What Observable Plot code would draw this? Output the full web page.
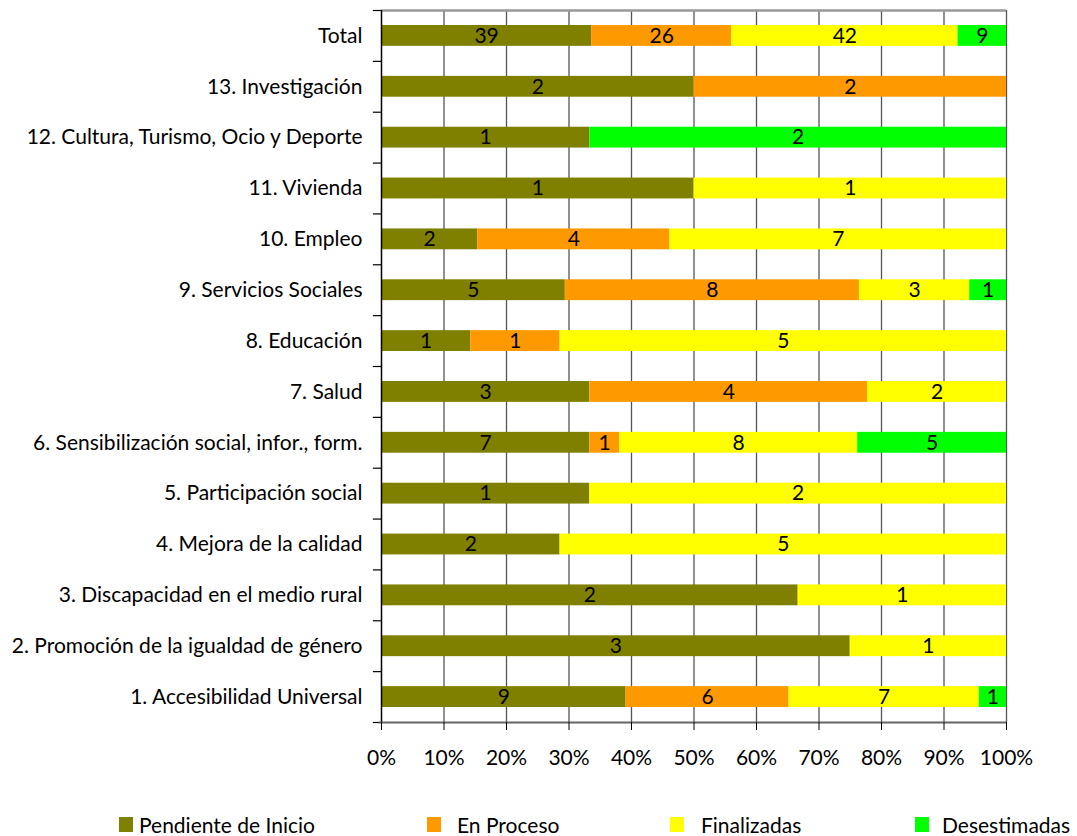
<!DOCTYPE html>
<html><head><meta charset="utf-8">
<script src="https://cdn.jsdelivr.net/npm/d3@7"></script>
<script src="https://cdn.jsdelivr.net/npm/@observablehq/plot@0.6"></script>
<style>
body{margin:0;background:#fff;font-family:Lato,"Open Sans",sans-serif;}
#wrap{position:relative;width:1077px;height:836px;overflow:hidden;}
#chart{position:absolute;left:0;top:0;}
.leg{position:absolute;top:813px;font-size:21px;line-height:24px;color:#000;white-space:nowrap;}
.sw{position:absolute;top:817px;width:14px;height:15px;}
</style></head>
<body><div id="wrap"><div id="chart"></div></div>
<script>
const categories = ["Total","13. Investigación","12. Cultura, Turismo, Ocio y Deporte","11. Vivienda","10. Empleo","9. Servicios Sociales","8. Educación","7. Salud","6. Sensibilización social, infor., form.","5. Participación social","4. Mejora de la calidad","3. Discapacidad en el medio rural","2. Promoción de la igualdad de género","1. Accesibilidad Universal"];
const series = ["Pendiente de Inicio","En Proceso","Finalizadas","Desestimadas"];
const colors = ["#808000","#FF9900","#FFFF00","#00FF00"];
const pendiente   = [39,2,1,1,2,5,1,3,7,1,2,2,3,9];
const enProceso   = [26,2,0,0,4,8,1,4,1,0,0,0,0,6];
const finalizadas = [42,0,0,1,7,3,5,2,8,2,5,1,1,7];
const desestimadas= [9,0,2,0,0,1,0,0,5,0,0,0,0,1];
const xTicks = [0,0.1,0.2,0.3,0.4,0.5,0.6,0.7,0.8,0.9,1];

const cols = [pendiente,enProceso,finalizadas,desestimadas];
const data = [];
categories.forEach((c,i)=>series.forEach((s,j)=>{ if(cols[j][i]>0) data.push({cat:c,series:s,value:cols[j][i]}); }));

const W=1077,H=800,mt=10,mb=78,ml=381,mr=71;
const step=(H-mt-mb)/categories.length;
const font="Lato, 'Open Sans', sans-serif";

const plot = Plot.plot({
  width:W,height:H,marginTop:mt,marginBottom:mb,marginLeft:ml,marginRight:mr,
  style:{fontFamily:font,fontSize:"21px",color:"#000",background:"#fff",overflow:"visible"},
  x:{domain:[0,1],label:null,axis:null},
  y:{domain:categories,paddingInner:0.59,paddingOuter:0.295,round:false,label:null,axis:null},
  color:{domain:series,range:colors},
  marks:[
    Plot.ruleX(xTicks.slice(1),{stroke:"#555",strokeWidth:1.3}),
    Plot.ruleY([categories[0]],{x1:0,x2:1,dy:-step/2,stroke:"#999",strokeWidth:2.5}),
    Plot.barX(data,Plot.stackX({offset:"normalize",x:"value",y:"cat",fill:"series",order:series,insetTop:0,insetBottom:0})),
    Plot.textX(data,Plot.stackX({offset:"normalize",x:"value",y:"cat",z:"series",order:series,text:d=>String(d.value),fill:"#000",fontSize:21})),
    Plot.axisY({tickSize:0,tickPadding:19,fontSize:21}),
    Plot.ruleY(categories,{x1:-0.013,x2:0,dy:-step/2,stroke:"#000",strokeWidth:1.2}),
    Plot.ruleY([categories[categories.length-1]],{x1:-0.013,x2:0,dy:step/2,stroke:"#000",strokeWidth:1.2}),
    Plot.ruleX([0],{stroke:"#000",strokeWidth:1.5}),
    Plot.ruleY([categories[categories.length-1]],{x1:-0.004,x2:1,dy:step/2,stroke:"#666",strokeWidth:2}),
    Plot.axisX({ticks:xTicks,tickFormat:d3.format(".0%"),tickSize:8,tickPadding:20,fontSize:21,stroke:"#000",anchor:"bottom"})
  ]
});
document.getElementById("chart").appendChild(plot);

const legX=[[119,139],[427,457],[670,701],[915,942]];
const wrap=document.getElementById("wrap");
series.forEach((s,i)=>{
  const sw=document.createElement("div");sw.className="sw";sw.style.left=legX[i][0]+"px";sw.style.background=colors[i];wrap.appendChild(sw);
  const t=document.createElement("div");t.className="leg";t.style.left=legX[i][1]+"px";t.textContent=s;wrap.appendChild(t);
});
</script></body></html>
